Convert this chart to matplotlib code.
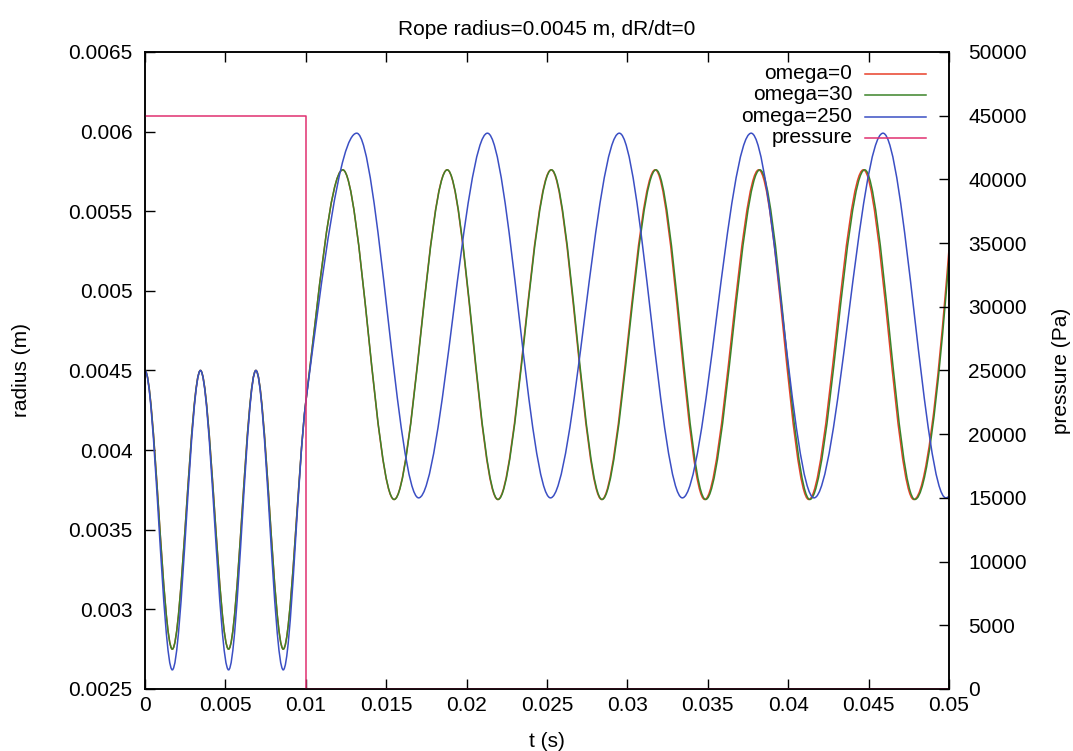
import matplotlib
matplotlib.use("Agg")

import numpy as np
import matplotlib.pyplot as plt
from matplotlib.path import Path
from matplotlib.patches import PathPatch
from matplotlib.ticker import FuncFormatter, MultipleLocator

# -------------------------------
# DATA
# knots are the turning points of each curve + the pressure release at t=0.01
# -------------------------------
t_omega0 = [0.0, 0.0017, 0.00345, 0.0052, 0.0069, 0.0086, 0.0100,
            0.0123, 0.01549, 0.01879, 0.02194, 0.02526, 0.02840,
            0.03173, 0.03481, 0.03817, 0.04128, 0.04468, 0.04781, 0.0500]
r_omega0 = [0.0045, 0.00275, 0.0045, 0.00275, 0.0045, 0.00275, 0.0043,
            0.00576, 0.00369, 0.00576, 0.00369, 0.00576, 0.00369,
            0.00576, 0.00369, 0.00576, 0.00369, 0.00576, 0.00369, 0.00526]

t_omega30 = [0.0, 0.0017, 0.00345, 0.0052, 0.0069, 0.0086, 0.0100,
             0.0123, 0.0155, 0.0188, 0.02196, 0.02528, 0.02843,
             0.03178, 0.03487, 0.03824, 0.04135, 0.04476, 0.04788, 0.0500]
r_omega30 = [0.0045, 0.00275, 0.0045, 0.00275, 0.0045, 0.00275, 0.0043,
             0.00576, 0.00369, 0.00576, 0.00369, 0.00576, 0.00369,
             0.00576, 0.00369, 0.00576, 0.00369, 0.00576, 0.00369, 0.0052]

t_omega250 = [0.0, 0.0017, 0.00345, 0.0052, 0.0069, 0.0086, 0.0100,
              0.01317, 0.01702, 0.0213, 0.02522, 0.0295, 0.03342,
              0.0377, 0.04161, 0.0459, 0.04981, 0.0500]
r_omega250 = [0.0045, 0.00262, 0.0045, 0.00262, 0.0045, 0.00262, 0.0043,
              0.00599, 0.0037, 0.00599, 0.0037, 0.00599, 0.0037,
              0.00599, 0.0037, 0.00599, 0.0037, 0.00371]

t_pressure = [0.0, 0.01, 0.01, 0.05]
p_pressure = [45000, 45000, 0, 0]

labels = ["omega=0", "omega=30", "omega=250", "pressure"]
colors = ["#e8402a", "#3c8429", "#3b4fc4", "#e03070"]

R_DOT0 = 0.0  # dR/dt at t=0

x_ticks = [0, 0.005, 0.01, 0.015, 0.02, 0.025, 0.03, 0.035, 0.04, 0.045, 0.05]


def smooth_path(t, r, m0=0.0):
    # piecewise cubic hermite (monotone) drawn as bezier segments
    t = np.asarray(t, float)
    r = np.asarray(r, float)
    h = np.diff(t)
    d = np.diff(r) / h
    m = np.zeros_like(r)
    for i in range(1, len(r) - 1):
        if d[i - 1] * d[i] > 0:
            w1 = 2 * h[i] + h[i - 1]
            w2 = h[i] + 2 * h[i - 1]
            m[i] = (w1 + w2) / (w1 / d[i - 1] + w2 / d[i])
    m[0] = m0
    me = ((2 * h[-1] + h[-2]) * d[-1] - h[-1] * d[-2]) / (h[-1] + h[-2])
    if np.sign(me) != np.sign(d[-1]):
        me = 0.0
    elif np.sign(d[-1]) != np.sign(d[-2]) and abs(me) > 3 * abs(d[-1]):
        me = 3 * d[-1]
    m[-1] = me

    verts = [(t[0], r[0])]
    codes = [Path.MOVETO]
    for i in range(len(h)):
        verts += [(t[i] + h[i] / 3, r[i] + m[i] * h[i] / 3),
                  (t[i + 1] - h[i] / 3, r[i + 1] - m[i + 1] * h[i] / 3),
                  (t[i + 1], r[i + 1])]
        codes += [Path.CURVE4] * 3
    return Path(verts, codes)


plt.rcParams["font.family"] = ["Liberation Sans", "DejaVu Sans"]
plt.rcParams["font.size"] = 15

fig = plt.figure(figsize=(10.73, 7.51), dpi=100)
ax = fig.add_axes([0.1351, 0.0826, 0.7493, 0.8482])
ax2 = ax.twinx()

series = [(t_omega0, r_omega0), (t_omega30, r_omega30), (t_omega250, r_omega250)]
for (t, r), c in zip(series, colors[:3]):
    ax.add_patch(PathPatch(smooth_path(t, r, R_DOT0), fill=False,
                           edgecolor=c, lw=1.1, zorder=2))

ax2.plot(t_pressure, p_pressure, color=colors[3], lw=1.1)

ax.set_xlim(0, 0.05)
ax.set_ylim(0.0025, 0.0065)
ax2.set_ylim(0, 50000)

gfmt = FuncFormatter(lambda v, p: "%g" % round(v, 6))
ax.set_xticks(x_ticks)
ax.xaxis.set_major_formatter(gfmt)
ax.yaxis.set_major_locator(MultipleLocator(0.0005))
ax.yaxis.set_major_formatter(gfmt)
ax2.yaxis.set_major_locator(MultipleLocator(5000))

ax.tick_params(direction="in", length=7, width=1, top=True, right=False,
               colors="black")
ax.tick_params(axis="y", pad=9)
ax.tick_params(axis="x", pad=5)
ax2.tick_params(direction="in", length=7, width=1, pad=14)

for a in (ax, ax2):
    for s in a.spines.values():
        s.set_linewidth(1.1)
        s.set_color("black")

ax.set_title("Rope radius=0.0045 m, dR/dt=0", fontsize=15, pad=12)
ax.set_xlabel("t (s)", labelpad=12)
ax.set_ylabel("radius (m)", labelpad=27)
ax2.set_ylabel("pressure (Pa)", labelpad=18)

# gnuplot style key: right aligned text, sample line to the right
key_y = [0.9655, 0.9325, 0.898, 0.865]
for lab, c, y in zip(labels, colors, key_y):
    ax2.text(0.880, y, lab, transform=ax.transAxes, ha="right", va="center",
             fontsize=15)
    ax2.plot([0.895, 0.971], [y, y], transform=ax.transAxes, color=c, lw=1.1,
             clip_on=False)

fig.savefig("out.png", dpi=100)
